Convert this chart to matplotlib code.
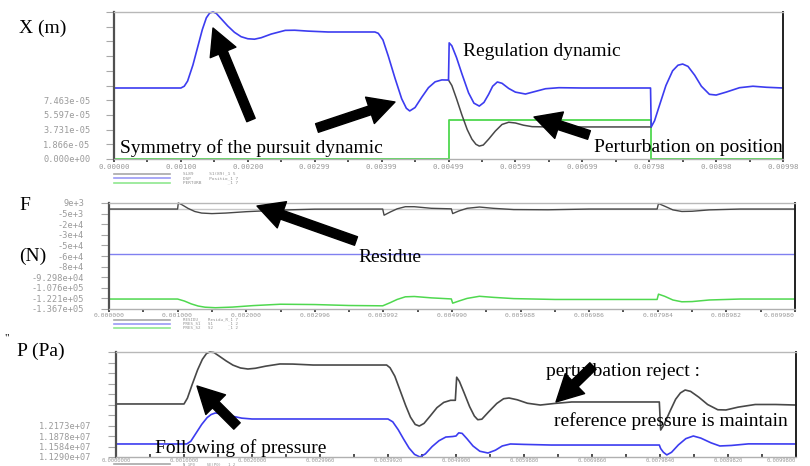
import matplotlib
matplotlib.use('Agg')
import matplotlib.pyplot as plt

W, H = 810, 466

# ---- shared time axis (s) ----
x_ticks = [0.0, 0.001, 0.002, 0.003, 0.004, 0.005, 0.006, 0.007, 0.008, 0.009, 0.010]
x_minor = [0.0005, 0.0015, 0.0025, 0.0035, 0.0045, 0.0055, 0.0065, 0.0075, 0.0085, 0.0095]
x_labels_pos = ['0.00000', '0.00100', '0.00200', '0.00299', '0.00399', '0.00499',
                '0.00599', '0.00699', '0.00798', '0.00898', '0.00998']
x_labels_force = ['0.000000', '0.001000', '0.002000', '0.002996', '0.003992', '0.004990',
                  '0.005988', '0.006986', '0.007984', '0.008982', '0.009980']
x_labels_pres = ['0.0000000', '0.0010000', '0.0020000', '0.0029960', '0.0039920', '0.0049900',
                 '0.0059880', '0.0069860', '0.0079840', '0.0089820', '0.0099800']

# ---- X (m) panel, values in divisions of 1.866e-05 m ----
y_labels_pos = ['0.000e+00', '1.866e-05', '3.731e-05', '5.597e-05', '7.463e-05',
                '', '', '', '', '', '']
pos_blue_t = [0, 0.00100, 0.00105, 0.00110, 0.00118, 0.00125, 0.00132, 0.00138, 0.00143,
              0.00148, 0.00153, 0.00160, 0.00170, 0.00180, 0.00190, 0.00200, 0.00210,
              0.00220, 0.00235, 0.00256, 0.00270, 0.00290, 0.00320, 0.00390, 0.00395,
              0.00402, 0.00410, 0.00420, 0.00430, 0.00437, 0.00442, 0.00450, 0.00460,
              0.00470, 0.00480, 0.00490, 0.00500, 0.00501, 0.00505, 0.00512, 0.00520,
              0.00530, 0.00538, 0.00546, 0.00553, 0.00560, 0.00566, 0.00573, 0.00580,
              0.00590, 0.00600, 0.00615, 0.00630, 0.00645, 0.00665, 0.00700, 0.00802,
              0.00803, 0.00808, 0.00815, 0.00825, 0.00835, 0.00843, 0.00850, 0.00858,
              0.00868, 0.00878, 0.00890, 0.00900, 0.00915, 0.00935, 0.00955, 0.00975, 0.01000]
pos_blue_v = [4.83, 4.83, 4.95, 5.3, 6.4, 7.6, 8.8, 9.6, 9.93,
              10.0, 9.9, 9.55, 9.05, 8.62, 8.32, 8.18, 8.15,
              8.25, 8.5, 8.75, 8.76, 8.7, 8.64, 8.64, 8.55,
              8.1, 7.0, 5.5, 4.1, 3.45, 3.27, 3.5, 4.2,
              4.85, 5.25, 5.38, 5.37, 7.9, 7.7, 6.9, 5.8,
              4.5, 3.8, 3.6, 3.85, 4.4, 4.95, 5.24, 5.15,
              4.8, 4.55, 4.42, 4.6, 4.78, 4.85, 4.83, 4.83,
              2.18, 2.6, 3.6, 5.0, 6.0, 6.38, 6.46, 6.3,
              5.7, 4.95, 4.4, 4.35, 4.55, 4.85, 4.95, 4.88, 4.83]
pos_gray_t = [0.00500, 0.00505, 0.00512, 0.00520, 0.00528, 0.00535, 0.00541, 0.00546,
              0.00552, 0.00560, 0.00570, 0.00580, 0.00590, 0.00600, 0.00612, 0.00625,
              0.00650, 0.00803]
pos_gray_v = [5.37, 5.0, 4.1, 3.0, 2.0, 1.35, 1.0, 0.88,
              0.95, 1.35, 1.9, 2.35, 2.5, 2.45, 2.3, 2.2,
              2.18, 2.18]
pert_t = [0, 0.00501, 0.00501, 0.00803, 0.00803, 0.01]
pert_v = [0, 0, 2.65, 2.65, 0, 0]

# ---- F (N) panel, values in divisions ----
y_labels_force = ['-1.367e+05', '-1.221e+05', '-1.076e+05', '-9.298e+04',
                  '-8e+4', '-6e+4', '-5e+4', '-3e+4', '-2e+4', '-5e+3', '9e+3']
res_gray_t = [0, 0.00100, 0.00101, 0.00106, 0.00115, 0.00125, 0.00135, 0.00150, 0.00170,
              0.00200, 0.00250, 0.00300, 0.00399, 0.00401, 0.00410, 0.00420, 0.00432,
              0.00445, 0.00470, 0.00499, 0.00501, 0.00510, 0.00522, 0.00540, 0.00560,
              0.00590, 0.00640, 0.00700, 0.00799, 0.00801, 0.00810, 0.00822, 0.00835,
              0.00850, 0.00875, 0.00920, 0.01]
res_gray_v = [9.43, 9.43, 10.0, 9.85, 9.5, 9.2, 9.05, 9.0, 9.05,
              9.18, 9.33, 9.42, 9.43, 8.85, 9.15, 9.45, 9.65,
              9.65, 9.5, 9.45, 9.0, 9.25, 9.5, 9.62, 9.5,
              9.38, 9.36, 9.43, 9.43, 9.95, 9.7, 9.35, 9.2,
              9.22, 9.35, 9.43, 9.43]
res_blue_t = [0, 0.01]
res_blue_v = [5.19, 5.19]
res_green_t = [0, 0.00100, 0.00110, 0.00120, 0.00130, 0.00140, 0.00155, 0.00180, 0.00210,
               0.00250, 0.00300, 0.00350, 0.00399, 0.00410, 0.00420, 0.00432, 0.00445,
               0.00470, 0.00499, 0.00501, 0.00510, 0.00522, 0.00540, 0.00560, 0.00590,
               0.00650, 0.00799, 0.00801, 0.00810, 0.00822, 0.00835, 0.00850, 0.00875,
               0.00920, 0.01]
res_green_v = [0.94, 0.94, 0.75, 0.48, 0.28, 0.17, 0.12, 0.18, 0.32,
               0.45, 0.42, 0.33, 0.3, 0.6, 0.9, 1.15, 1.18,
               1.05, 0.95, 0.55, 0.75, 1.0, 1.2, 1.1, 0.98,
               0.9, 0.9, 1.4, 1.2, 0.85, 0.68, 0.7, 0.85,
               0.94, 0.94]

# ---- P (Pa) panel, values in divisions ----
y_labels_pres = ['1.1290e+07', '1.1584e+07', '1.1878e+07', '1.2173e+07',
                 '', '', '', '', '', '', '']
pres_gray_t = [0, 0.00100, 0.00105, 0.00112, 0.00120, 0.00127, 0.00133, 0.00138, 0.00144,
               0.00152, 0.00162, 0.00172, 0.00183, 0.00194, 0.00205, 0.00220, 0.00241,
               0.00260, 0.00290, 0.00398, 0.00403, 0.00410, 0.00418, 0.00426, 0.00433,
               0.00440, 0.00446, 0.00453, 0.00462, 0.00472, 0.00482, 0.00492, 0.00499,
               0.00501, 0.00505, 0.00512, 0.00520, 0.00527, 0.00532, 0.00538, 0.00548,
               0.00560, 0.00570, 0.00578, 0.00590, 0.00605, 0.00624, 0.00645, 0.00670,
               0.00799, 0.00801, 0.00806, 0.00815, 0.00823, 0.00830, 0.00837, 0.00845,
               0.00857, 0.00870, 0.00885, 0.00897, 0.00915, 0.00940, 0.00970, 0.01]
pres_gray_v = [5.05, 5.05, 5.6, 6.9, 8.3, 9.3, 9.85, 10.0, 9.95,
               9.6, 9.15, 8.75, 8.48, 8.38, 8.45, 8.65, 8.86,
               8.85, 8.76, 8.76, 8.5, 7.7, 6.3, 4.9, 3.8,
               3.1, 2.95, 3.2, 3.9, 4.7, 5.2, 5.4, 5.4,
               7.6, 7.2, 6.1, 4.8, 3.9, 3.55, 3.6, 4.3,
               5.1, 5.55, 5.62, 5.45, 5.12, 4.95, 5.1, 5.24,
               5.24, 2.57, 3.1, 4.4, 5.5, 6.1, 6.38, 6.25,
               5.7, 5.0, 4.5, 4.48, 4.75, 5.0, 5.0, 4.95]
pres_blue_t = [0, 0.00104, 0.00110, 0.00118, 0.00126, 0.00134, 0.00140, 0.00146, 0.00155,
               0.00170, 0.00185, 0.00200, 0.00400, 0.00407, 0.00415, 0.00423, 0.00431,
               0.00439, 0.00447, 0.00455, 0.00465, 0.00475, 0.00485, 0.00495, 0.00500,
               0.00504, 0.00509, 0.00516, 0.00525, 0.00535, 0.00547, 0.00558, 0.00568,
               0.00580, 0.00600, 0.00640, 0.00799, 0.00801, 0.00805, 0.00810, 0.00817,
               0.00827, 0.00838, 0.00849, 0.00860, 0.00875, 0.00888, 0.00905, 0.00930, 0.01]
pres_blue_v = [1.24, 1.24, 1.5, 2.3, 3.1, 3.75, 4.05, 4.19, 4.12,
               3.9, 3.7, 3.62, 3.62, 3.35, 2.6, 1.7, 0.85,
               0.25, 0.0, 0.3, 1.0, 1.55, 1.9, 1.95, 2.0,
               2.3, 2.25, 1.75, 1.05, 0.55, 0.38, 0.65, 1.05,
               1.24, 1.2, 1.14, 1.14, 0.8, 0.45, 0.2, 0.45,
               1.15, 1.75, 2.0, 1.8, 1.35, 1.05, 1.1, 1.25, 1.24]

GRAY = '#484848'
BLUE = '#3c3cf0'
GREEN = '#4fd84f'
TICKC = '#9a9a9a'
MONO = 'DejaVu Sans Mono'
SERIF = 'Liberation Serif'


def px_rect(l, t, r, b):
    return [l / W, 1 - b / H, (r - l) / W, (b - t) / H]


def panel(rect, ylabels, xlabels, ypad, xpad, xsize, xdir='out'):
    ax = fig.add_axes(px_rect(*rect))
    ax.set_xlim(0, 0.01)
    ax.set_ylim(0, 10)
    ax.set_yticks(range(11))
    ax.set_yticklabels(ylabels, fontfamily=MONO, fontsize=6.2, color=TICKC)
    ax.set_xticks(x_ticks)
    ax.set_xticks(x_minor, minor=True)
    ax.set_xticklabels(xlabels, fontfamily=MONO, fontsize=xsize, color=TICKC)
    ax.tick_params(axis='y', direction='out', length=6, width=0.8, color='#a8a8a8', pad=ypad)
    ax.tick_params(axis='x', which='both', direction=xdir, length=2.5, width=1.2,
                   color='#303030', pad=xpad)
    ax.spines['left'].set_color('#505050')
    ax.spines['left'].set_linewidth(1.6)
    ax.spines['right'].set_color('#202020')
    ax.spines['right'].set_linewidth(1.4)
    ax.spines['top'].set_color('#b8b8b8')
    ax.spines['top'].set_linewidth(1.0)
    ax.spines['bottom'].set_color('#b0b0b0')
    ax.spines['bottom'].set_linewidth(1.0)
    return ax


fig = plt.figure(figsize=(8.1, 4.66), dpi=100)

# X (m)
ax1 = panel((114, 12, 783, 159), y_labels_pos, x_labels_pos, 11, 1.0, 5.4)
ax1.plot(pert_t, pert_v, color=GREEN, lw=1.3, clip_on=False)
ax1.plot(pos_gray_t, pos_gray_v, color=GRAY, lw=1.1)
ax1.plot(pos_blue_t, pos_blue_v, color=BLUE, lw=1.2, clip_on=False)

# F (N)
ax2 = panel((109, 203, 795, 309), y_labels_force, x_labels_force, 12, 0.3, 4.6)
ax2.axhline(9.43, color='#c8c8c8', lw=1.0)
ax2.plot(res_blue_t, res_blue_v, color='#8080f0', lw=1.0)
ax2.plot(res_gray_t, res_gray_v, color=GRAY, lw=1.0, clip_on=False)
ax2.plot(res_green_t, res_green_v, color=GREEN, lw=1.1)

# P (Pa)
ax3 = panel((116, 352, 796, 457), y_labels_pres, x_labels_pres, 12, 0.6, 4.0, xdir='in')
ax3.plot(pres_gray_t, pres_gray_v, color=GRAY, lw=1.2, clip_on=False)
ax3.plot(pres_blue_t, pres_blue_v, color=BLUE, lw=1.2, clip_on=False)

# keep the last tick label of the lower panels inside the picture
for ax in (ax2, ax3):
    ax.get_xticklabels()[-1].set_horizontalalignment('right')

# overlay in image pixel coordinates for text, legends and arrows
ov = fig.add_axes([0, 0, 1, 1])
ov.set_xlim(0, W)
ov.set_ylim(H, 0)
ov.axis('off')

# small legends below each panel
legend_rows = [
    (173.5, '#a8a8a8', 'SL89      S1(89)_1 5', 3.2),
    (178, '#9a9af5', 'DSP       Positio_1 7', 3.2),
    (182.5, '#8fe88f', 'PERTURB          _1 7', 3.2),
    (319.5, '#a8a8a8', 'RESIDU_   Residu_R_1 7', 3.0),
    (323.5, '#9a9af5', 'PRES_S1   S1      _1 2', 3.0),
    (327.5, '#8fe88f', 'PRES_S2   S2      _1 2', 3.0),
    (464, '#a8a8a8', 'N_1P0     SE(P0)  _1 2', 2.8),
]
for y, c, txt, fs in legend_rows:
    ov.plot([114, 170], [y, y], color=c, lw=1.2)
    ov.text(183, y, txt, fontfamily=MONO, fontsize=fs, color='#909090', va='center')

# axis titles and annotations
big = dict(fontfamily=SERIF, fontsize=14, color='black', va='center')
ov.text(19, 28, 'X (m)', **big)
ov.text(19, 206, 'F', **big)
ov.text(19, 256, '(N)', **big)
ov.text(17, 351, 'P (Pa)', **big)
ov.text(4, 338, '"', fontfamily=SERIF, fontsize=8, va='center')
ov.text(463, 52, 'Regulation dynamic', **big)
ov.text(120, 148, 'Symmetry of the pursuit dynamic', **big)
ov.text(594, 148, 'Perturbation on position', **big)
ov.text(358, 258, 'Residue', **big)
ov.text(546, 372, 'perturbation reject :', **big)
ov.text(554, 421, 'reference pressure is maintain', **big)
ov.text(155, 448, 'Following of pressure', **big)

arrow = dict(facecolor='black', edgecolor='black', width=6.5, headwidth=20, headlength=19, shrink=0)
for tail, head in [((251, 120), (213, 28)),
                   ((317, 128), (395, 102)),
                   ((589, 135), (534, 117)),
                   ((356, 241), (257, 206)),
                   ((237, 426), (197, 386)),
                   ((593, 366), (556, 402))]:
    ov.annotate('', xy=head, xytext=tail, arrowprops=arrow)

fig.savefig('out.png', dpi=100)
